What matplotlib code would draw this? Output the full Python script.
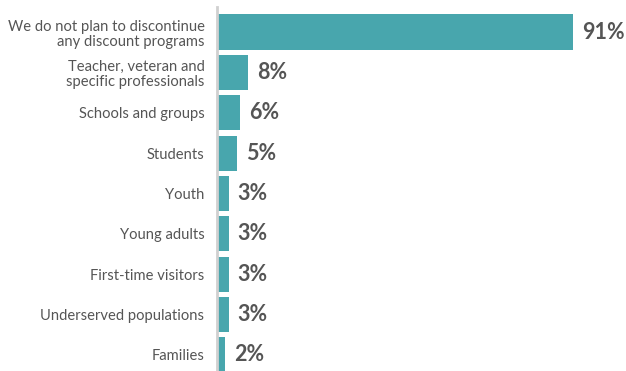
import matplotlib.pyplot as plt
from matplotlib.transforms import offset_copy

labels = ['We do not plan to discontinue\nany discount programs',
          'Teacher, veteran and\nspecific professionals',
          'Schools and groups', 'Students', 'Youth', 'Young adults',
          'First-time visitors', 'Underserved populations', 'Families']
values = [91, 8, 6, 5, 3, 3, 3, 3, 2]

bar_color = '#48a6ad'
text_color = '#555555'

fig = plt.figure(figsize=(6.26, 3.71), dpi=100)
ax = fig.add_axes([217 / 626, 0, 1 - 217 / 626, 1 - 7 / 371])

y = range(len(values))
ax.barh(y, values, height=0.87, color=bar_color)
ax.set_xlim(0, 104.6)
ax.set_ylim(8.40, -0.62)

ax.set_yticks(list(y))
ax.set_yticklabels(labels, fontfamily='Lato', fontsize=10.6, color=text_color,
                   linespacing=1.1)
ax.tick_params(axis='y', length=0, pad=9)
ax.set_xticks([])

for s in ['top', 'right', 'bottom']:
    ax.spines[s].set_visible(False)
ax.spines['left'].set_color('#d0d0d0')
ax.spines['left'].set_linewidth(2)

trans = offset_copy(ax.transData, fig=fig, x=9, y=0, units='dots')
for i, v in enumerate(values):
    ax.text(v, i, f'{v}%', transform=trans, ha='left', va='center',
            fontfamily='Lato', fontweight='bold', fontsize=15.5, color=text_color)

fig.savefig('out.png', dpi=100)
